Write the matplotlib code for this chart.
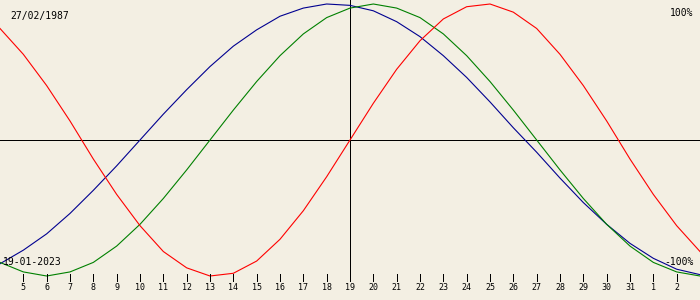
import numpy as np
import matplotlib.pyplot as plt

# x positions are day numbers in Jan 2023 (32 = Feb 1, ...), 4 .. 34
days = list(range(4, 35))
tick_days = list(range(5, 34))
tick_labels = [str(d) for d in range(5, 32)] + ["1", "2"]

# percent values read per day, Jan 4 .. Feb 3
physical = [82, 63, 40, 14, -14, -40, -63, -82, -94, -100, -98, -89, -73, -52, -27,
            0, 27, 52, 73, 89, 98, 100, 94, 82, 63, 40, 14, -14, -40, -63, -82]
emotional = [-90, -97, -100, -97, -90, -78, -62, -43, -22, 0, 22, 43, 62, 78, 90,
             97, 100, 97, 90, 78, 62, 43, 22, 0, -22, -43, -62, -78, -90, -97, -100]
intellectual = [-91, -81, -69, -54, -37, -19, 0, 19, 37, 54, 69, 81, 91, 97, 100,
                99, 95, 87, 76, 62, 46, 28, 9, -9, -28, -46, -62, -76, -87, -95, -99]

birth = "27/02/1987"
today = "19-01-2023"
today_day = 19

bg = "#f3efe3"
fig = plt.figure(figsize=(7, 3), dpi=100, facecolor=bg)
ax = fig.add_axes([0, 0, 1, 1])
ax.set_facecolor(bg)
for s in ax.spines.values():
    s.set_visible(False)

# pixel mapping: 0% at y=140, 1.36 px per percent
px = 1.36
ax.set_xlim(4, 34)
ax.set_ylim(-160 / px, 140 / px)

def ypix(p):
    return 140 / px - p / px

ax.axhline(0, color="black", lw=0.6, antialiased=False)
ax.plot([today_day, today_day], [ypix(0), ypix(281)], color="black", lw=0.6, antialiased=False)

ax.plot(days, intellectual, color="#000090", lw=0.8)
ax.plot(days, emotional, color="#008000", lw=0.8)
ax.plot(days, physical, color="#ff0000", lw=0.8)

for d, lab in zip(tick_days, tick_labels):
    ax.plot([d, d], [ypix(274), ypix(281)], color="black", lw=0.6, antialiased=False)
    ax.text(d, ypix(288), lab, ha="center", va="center", fontsize=6,
            family="DejaVu Sans Mono")

fnt = dict(fontsize=7, family="DejaVu Sans Mono", va="center")
ax.text(4 + 10 / 23.33, ypix(16), birth, ha="left", **fnt)
ax.text(4 + 3 / 23.33, ypix(262), today, ha="left", **fnt)
ax.text(4 + 693 / 23.33, ypix(13), "100%", ha="right", **fnt)
ax.text(4 + 694 / 23.33, ypix(262), "-100%", ha="right", **fnt)

ax.set_xticks([])
ax.set_yticks([])
fig.savefig("out.png", dpi=100, facecolor=bg)
